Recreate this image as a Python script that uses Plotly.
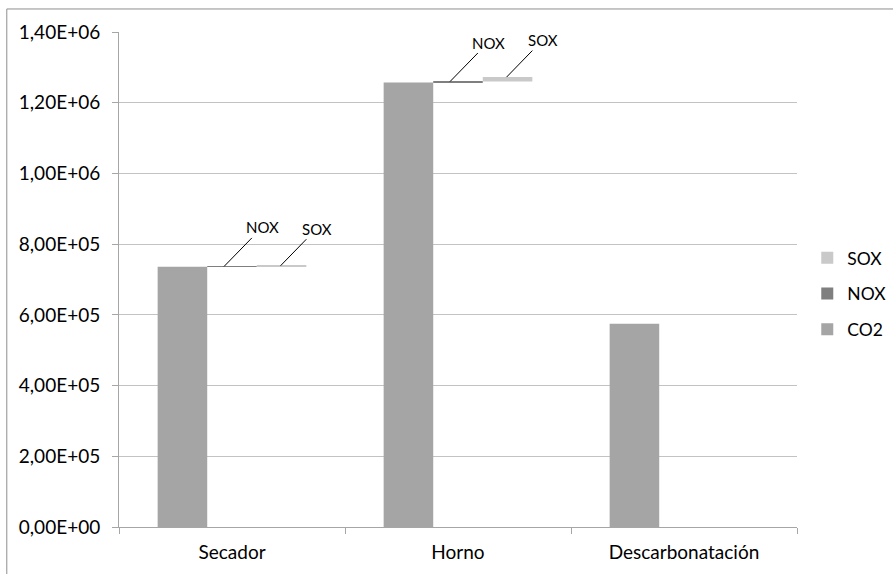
import plotly.graph_objects as go

# Emissions per process stage
categories = ["Secador", "Horno", "Descarbonatación"]
co2 = [7.36e5, 1.257e6, 5.75e5]
nox = [1.0e3, 3.0e3, 0.0]
sox = [2.0e3, 1.25e4, 0.0]

y_tickvals = [0, 2e5, 4e5, 6e5, 8e5, 1.0e6, 1.2e6, 1.4e6]
y_ticktext = ["0,00E+00", "2,00E+05", "4,00E+05", "6,00E+05",
              "8,00E+05", "1,00E+06", "1,20E+06", "1,40E+06"]

# NOX and SOX segments float on top of the previous series (waterfall style)
nox_base = [c for c in co2]
sox_base = [c + n for c, n in zip(co2, nox)]

FONT = "Lato, 'Open Sans', sans-serif"
GRID = "#C3C3C3"
AXIS = "#A6A6A6"

fig = go.Figure()
fig.add_trace(go.Bar(name="CO2", x=categories, y=co2, marker_color="#A5A5A5",
                     marker_line_width=0, legendgroup="co2", legendrank=3))
fig.add_trace(go.Bar(name="NOX", x=categories, y=nox, base=nox_base,
                     marker_color="#7F7F7F", marker_line_width=0,
                     legendgroup="nox", legendrank=2))
fig.add_trace(go.Bar(name="SOX", x=categories, y=sox, base=sox_base,
                     marker_color="#C9C9C9", marker_line_width=0,
                     legendgroup="sox", legendrank=1))

# Leader-line labels for the small NOX / SOX segments
labels = []
for i, cat in enumerate(categories):
    if nox[i] > 0:
        labels.append(dict(x=i - 0.035, y=nox_base[i] + nox[i], text="NOX", ax=38, ay=-39))
    if sox[i] > 0:
        labels.append(dict(x=i + 0.215, y=sox_base[i] + sox[i], text="SOX", ax=36, ay=-37))
for a in labels:
    fig.add_annotation(xref="x", yref="y", showarrow=True, arrowhead=0,
                       arrowwidth=1, arrowcolor="#000000",
                       font=dict(family=FONT, size=15, color="#000000"), **a)

# Chart frame
fig.add_shape(type="rect", xref="paper", yref="paper",
              x0=-0.1655, x1=1.3, y0=-0.3, y1=1.0465,
              line=dict(color="#8F8F8F", width=1), fillcolor="rgba(0,0,0,0)",
              layer="below")

fig.update_layout(
    width=893, height=574,
    margin=dict(l=119, r=96, t=32, b=47, autoexpand=False),
    paper_bgcolor="white", plot_bgcolor="white",
    barmode="group", bargap=0.342, bargroupgap=0,
    font=dict(family=FONT, size=19, color="#000000"),
    showlegend=True,
    legend=dict(xref="container", x=0.904, xanchor="left",
                yref="container", y=0.488, yanchor="middle",
                traceorder="grouped", tracegroupgap=10,
                font=dict(family=FONT, size=17.5, color="#000000"),
                bgcolor="rgba(0,0,0,0)"),
    xaxis=dict(type="category", tickson="boundaries", ticks="outside",
               ticklen=6, tickcolor=AXIS, showline=True, linecolor=AXIS,
               linewidth=1, showgrid=False, range=[-0.5, 2.5],
               ticklabelstandoff=8, tickfont=dict(family=FONT, size=19)),
    yaxis=dict(range=[0, 1.4e6], tickvals=y_tickvals, ticktext=y_ticktext,
               ticks="outside", ticklen=6, tickcolor=AXIS, showline=True,
               linecolor=AXIS, linewidth=1, showgrid=True, gridcolor=GRID,
               gridwidth=1, zeroline=False, ticklabelstandoff=8,
               tickfont=dict(family=FONT, size=19)),
)

fig.write_html("out.html")
